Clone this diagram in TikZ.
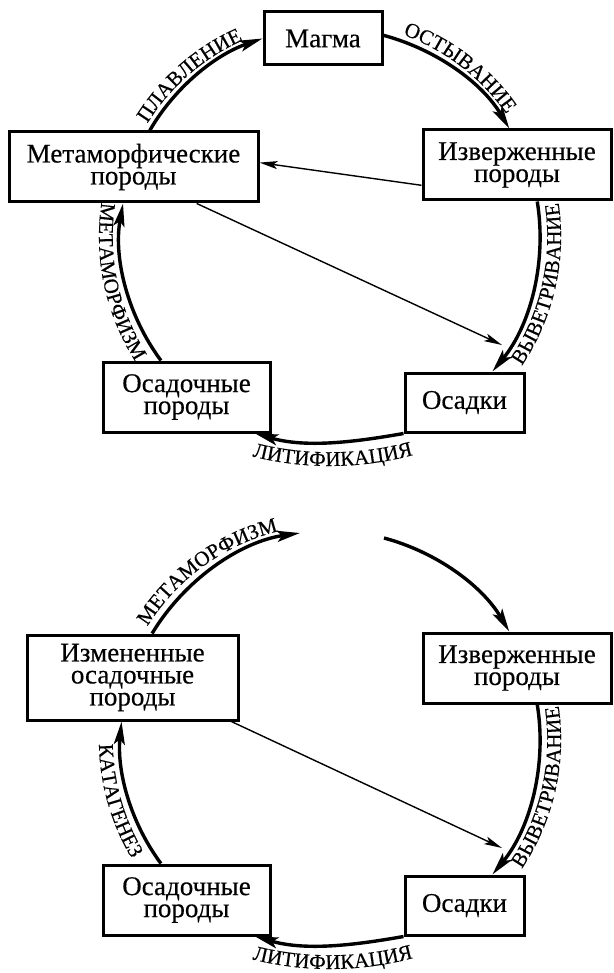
\documentclass[tikz,border=0pt]{standalone}
\usepackage{fontspec}
\setmainfont{Liberation Serif}[FakeBold=0.4]
\usetikzlibrary{arrows.meta,decorations.text,calc}
\newcommand\boxfont{\fontsize{27}{22}\selectfont}
\newcommand\lblfont{\fontsize{21}{21}\selectfont}
\begin{document}
\begin{tikzpicture}[x=1pt,y=1pt,
  box/.style={draw, line width=3pt, inner sep=0pt, align=center, font=\boxfont},
  cyc/.style={line width=3.4pt, -{Stealth[length=23pt,width=11pt,inset=5pt]}},
  thinarr/.style={line width=1.4pt, -{Stealth[length=18pt,width=8pt,inset=4pt]}},
  lbl/.style={decorate, decoration={text along path, text align=center, text={|\lblfont|#1}}}
]
\useasboundingbox (0,0) rectangle (613,-973);
\coordinate (C1) at (330,-237);
\coordinate (C2) at (330,-740);
\coordinate (L1) at (330,-146);
\coordinate (L2) at (330,-649);

% ---------- upper cycle ----------
\node[box, minimum width=118pt, minimum height=53pt] (magma) at (323,-38.5) {Магма};
\node[box, minimum width=249pt, minimum height=70pt] (met) at (133.5,-167) {Метаморфические\\породы};
\node[box, minimum width=188pt, minimum height=70pt] (izv) at (517,-165) {Изверженные\\породы};
\node[box, minimum width=167pt, minimum height=70pt] (osp) at (186.5,-397) {Осадочные\\породы};
\node[box, minimum width=119pt, minimum height=59pt] (osa) at (464.5,-402.5) {Осадки};

\draw[cyc] (met.66) to[out=60,in=199,looseness=0.88] (magma.west);
\draw[cyc] (magma.3) to[out=-15,in=120.7,looseness=0.88] (izv.102);
\draw[cyc] (izv.-61) to[out=-80.7,in=50.5,looseness=0.88] (osa.48);
\draw[cyc] (osa.south west) to[out=190,in=-16,looseness=0.9] (osp.-28);
\draw[cyc] (osp.125) to[out=126.6,in=259.8,looseness=0.88] (met.254);

\coordinate (t1) at (502,-345);
\draw[thinarr] (izv.192) -- (met.2);
\draw[thinarr] (met.-30) -- (t1);

\path[lbl=ПЛАВЛЕНИЕ] ([shift={(171:215)}]C1) arc[start angle=171, end angle=91, radius=215];
\path[lbl=ОСТЫВАНИЕ] ([shift={(92.5:215)}]C1) arc[start angle=92.5, end angle=12.5, radius=215];
\path[lbl=ВЫВЕТРИВАНИЕ] ([shift={(-52.7:231)}]C1) arc[start angle=-52.7, end angle=27.3, radius=231];
\path[lbl=ЛИТИФИКАЦИЯ] ([shift={(-117:320)}]L1) arc[start angle=-117, end angle=-62, radius=320];
\path[lbl=МЕТАМОРФИЗМ] ([shift={(152:231)}]C1) arc[start angle=152, end angle=232, radius=231];

% ---------- lower cycle ----------
\node[box, minimum width=211pt, minimum height=85pt] (izm) at (132.5,-677.5) {Измененные\\осадочные\\породы};
\node[box, minimum width=188pt, minimum height=70pt] (izvb) at (517,-668) {Изверженные\\породы};
\node[box, minimum width=167pt, minimum height=70pt] (ospb) at (186.5,-900) {Осадочные\\породы};
\node[box, minimum width=119pt, minimum height=59pt] (osab) at (464.5,-905.5) {Осадки};

\coordinate (mt) at (300,-533);
\coordinate (ms) at (384,-538);
\coordinate (t2) at (502,-848);

\draw[cyc] (izm.66) to[out=59,in=188.3,looseness=0.88] (mt);
\draw[cyc] (ms) to[out=-15,in=120.7,looseness=0.88] (izvb.102);
\draw[cyc] (izvb.-61) to[out=-80.7,in=50.5,looseness=0.88] (osab.48);
\draw[cyc] (osab.south west) to[out=190,in=-16,looseness=0.9] (ospb.-28);
\draw[cyc] (ospb.125) to[out=126.6,in=264.5,looseness=0.88] (izm.256);

\draw[thinarr] (izm.-24) -- (t2);

\path[lbl=МЕТАМОРФИЗМ] ([shift={(166:215)}]C2) arc[start angle=166, end angle=86, radius=215];
\path[lbl=ВЫВЕТРИВАНИЕ] ([shift={(-52.7:231)}]C2) arc[start angle=-52.7, end angle=27.3, radius=231];
\path[lbl=ЛИТИФИКАЦИЯ] ([shift={(-117:320)}]L2) arc[start angle=-117, end angle=-62, radius=320];
\path[lbl=КАТАГЕНЕЗ] ([shift={(156:231)}]C2) arc[start angle=156, end angle=236, radius=231];
\end{tikzpicture}
\end{document}
